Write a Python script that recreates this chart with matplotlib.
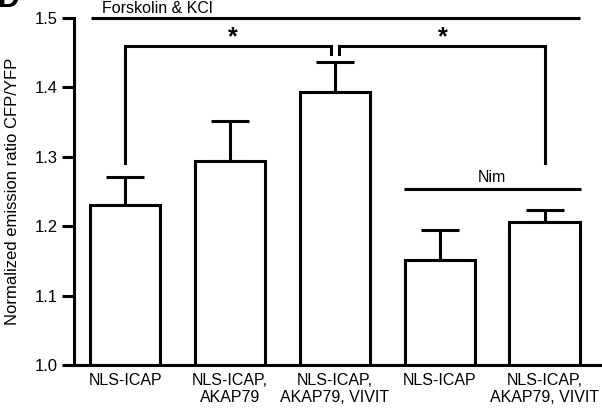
import matplotlib
matplotlib.use("Agg")
import matplotlib.pyplot as plt

# Data
categories = ["NLS-ICAP", "NLS-ICAP,\nAKAP79", "NLS-ICAP,\nAKAP79, VIVIT",
              "NLS-ICAP", "NLS-ICAP,\nAKAP79, VIVIT"]
ratio_mean = [1.231, 1.294, 1.393, 1.151, 1.206]
ratio_sem = [0.040, 0.058, 0.044, 0.044, 0.017]
y_ticks = [1.0, 1.1, 1.2, 1.3, 1.4, 1.5]

plt.rcParams['font.family'] = ['Liberation Sans', 'DejaVu Sans']
LW = 2.2

fig = plt.figure(figsize=(6.02, 4.09), dpi=100)
ax = fig.add_axes([0.123, 0.1076, 0.874, 0.8484])

x = list(range(len(categories)))
ax.bar(x, [m - 1.0 for m in ratio_mean], bottom=1.0, width=0.67,
       facecolor='white', edgecolor='black', linewidth=LW, zorder=2)
ax.errorbar(x, ratio_mean, yerr=[[0] * len(x), ratio_sem], fmt='none',
            ecolor='black', elinewidth=LW, capsize=14, capthick=LW, zorder=1)

ax.set_xlim(-0.487, 4.53)
ax.set_ylim(1.0, 1.5)
ax.set_yticks(y_ticks)
ax.set_yticklabels([f"{t:.1f}" for t in y_ticks], fontsize=12)
ax.set_xticks(x)
ax.set_xticklabels(categories, fontsize=11.5, linespacing=1.15)
ax.tick_params(axis='x', length=0, pad=6)
ax.tick_params(axis='y', direction='out', length=9, width=LW, pad=3)

for side in ['top', 'right']:
    ax.spines[side].set_visible(False)
for side in ['left', 'bottom']:
    ax.spines[side].set_linewidth(LW)

ax.set_ylabel("Normalized emission ratio CFP/YFP", fontsize=12)
ax.yaxis.set_label_coords(-0.103, 0.5)

# Treatment lines
ax.plot([-0.33, 4.34], [1.5, 1.5], color='black', lw=LW, clip_on=False,
        solid_capstyle='butt')
ax.text(0.31, 1.5075, "Forskolin & KCl", ha='center', va='baseline',
        fontsize=11.5, clip_on=False)
ax.plot([2.66, 4.35], [1.254, 1.254], color='black', lw=LW,
        solid_capstyle='butt')
ax.text(3.5, 1.259, "Nim", ha='center', va='bottom', fontsize=11.5)

# Significance brackets
ax.plot([0, 0, 1.96, 1.96], [1.291, 1.46, 1.46, 1.448], color='black',
        lw=LW, solid_joinstyle='miter')
ax.plot([2.04, 2.04, 4, 4], [1.448, 1.46, 1.46, 1.291], color='black',
        lw=LW, solid_joinstyle='miter')
ax.text(1.03, 1.455, "*", ha='center', va='bottom', fontsize=18,
        fontweight='bold')
ax.text(3.03, 1.455, "*", ha='center', va='bottom', fontsize=18,
        fontweight='bold')

# Panel letter, cut off at the top edge as in the source figure
fig.text(-0.004, 1 - 7 / 409, "D", fontsize=22, fontweight='bold',
         ha='left', va='baseline')

fig.savefig("out.png", dpi=100)
